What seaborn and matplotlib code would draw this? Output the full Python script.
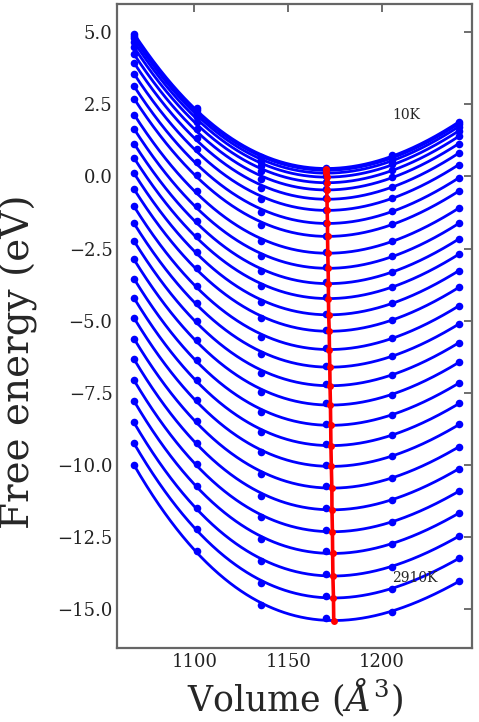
import numpy as np
import pandas as pd
import matplotlib
matplotlib.use("Agg")
import matplotlib.pyplot as plt
import seaborn as sns

# Cell volumes (Å^3) at which the free energy was computed
volumes = [1067.7, 1101.4, 1135.4, 1170.3, 1205.4, 1241.0]

# Temperatures (K)
temperatures = list(range(10, 3000, 100))

# Free energy (eV) at each volume, one list per volume, ordered by temperature
f_v1 = [4.95, 4.89, 4.80, 4.66, 4.48, 4.24, 3.94, 3.56, 3.13, 2.70, 2.15, 1.65,
        1.14, 0.64, 0.11, -0.44, -1.04, -1.63, -2.24, -2.88, -3.55, -4.22, -4.91,
        -5.63, -6.34, -7.07, -7.79, -8.54, -9.26, -10.01]
f_v2 = [2.37, 2.31, 2.21, 2.08, 1.89, 1.64, 1.33, 0.94, 0.50, 0.06, -0.51, -1.02,
        -1.55, -2.06, -2.61, -3.17, -3.79, -4.39, -5.02, -5.68, -6.37, -7.06, -7.77,
        -8.50, -9.24, -9.99, -10.73, -11.50, -12.24, -13.01]
f_v3 = [0.67, 0.61, 0.51, 0.37, 0.18, -0.07, -0.39, -0.77, -1.22, -1.67, -2.25, -2.77,
        -3.29, -3.81, -4.37, -4.93, -5.56, -6.17, -6.81, -7.47, -8.17, -8.87, -9.58,
        -10.33, -11.08, -11.83, -12.58, -13.36, -14.11, -14.89]
f_v4 = [0.30, 0.24, 0.14, 0.00, -0.19, -0.44, -0.76, -1.15, -1.60, -2.05, -2.63, -3.15,
        -3.68, -4.20, -4.76, -5.33, -5.96, -6.57, -7.21, -7.88, -8.58, -9.28, -10.00,
        -10.75, -11.50, -12.26, -13.01, -13.79, -14.55, -15.33]
f_v5 = [0.73, 0.67, 0.57, 0.43, 0.23, -0.02, -0.35, -0.74, -1.20, -1.65, -2.24, -2.77,
        -3.31, -3.83, -4.40, -4.98, -5.62, -6.24, -6.89, -7.57, -8.28, -8.99, -9.72,
        -10.48, -11.24, -12.01, -12.77, -13.56, -14.33, -15.12]
f_v6 = [1.89, 1.83, 1.73, 1.58, 1.39, 1.14, 0.81, 0.41, -0.05, -0.51, -1.10, -1.63,
        -2.17, -2.70, -3.27, -3.85, -4.49, -5.12, -5.77, -6.45, -7.17, -7.88, -8.61,
        -9.38, -10.14, -10.92, -11.68, -12.48, -13.25, -14.05]

sns.set_style("white")
plt.rcParams["font.family"] = ["DejaVu Serif"]
plt.rcParams["mathtext.fontset"] = "dejavuserif"

energies = np.array([f_v1, f_v2, f_v3, f_v4, f_v5, f_v6]).T  # (n_T, n_V)
vol = np.array(volumes)

# Long-form tables: raw points, cubic fits and fitted minima
pts_rows, fit_rows, min_v, min_f = [], [], [], []
v_fine = np.linspace(vol.min(), vol.max(), 600)
for t, row in zip(temperatures, energies):
    for v, f in zip(vol, row):
        pts_rows.append((t, v, f))
    coeffs = np.polyfit(vol, row, 3)
    f_fine = np.polyval(coeffs, v_fine)
    for v, f in zip(v_fine, f_fine):
        fit_rows.append((t, v, f))
    # stationary point of the cubic closest to the grid minimum
    k = np.argmin(f_fine)
    roots = np.roots(np.polyder(coeffs))
    roots = roots[np.isreal(roots)].real
    vm = roots[np.argmin(np.abs(roots - v_fine[k]))] if roots.size else v_fine[k]
    min_v.append(vm)
    min_f.append(np.polyval(coeffs, vm))

pts = pd.DataFrame(pts_rows, columns=["T", "V", "F"])
fits = pd.DataFrame(fit_rows, columns=["T", "V", "F"])
mins = pd.DataFrame({"T": temperatures, "V": min_v, "F": min_f})

fig = plt.figure(figsize=(4.79, 7.22), dpi=100)
ax = fig.add_axes([0.245, 0.1025, 0.741, 0.892])

sns.lineplot(data=fits, x="V", y="F", hue="T", palette=["#0000ff"] * len(temperatures),
             legend=False, linewidth=2.0, ax=ax, sort=False, estimator=None)
sns.scatterplot(data=pts, x="V", y="F", color="#0000ff", s=30, linewidth=0,
                ax=ax, zorder=3)
sns.lineplot(data=mins, x="V", y="F", color="red", linewidth=2.6, marker="o",
             markersize=5, markeredgewidth=0, sort=False, estimator=None,
             ax=ax, zorder=4)

ax.text(1205.5, 2.12, "10K", fontsize=10, ha="left", va="center")
ax.text(1205.5, -13.94, "2910K", fontsize=10, ha="left", va="center")

ax.set_xlim(1059, 1248)
ax.set_ylim(-16.37, 5.99)
ax.set_xticks([1100, 1150, 1200])
ax.set_yticks([5.0, 2.5, 0.0, -2.5, -5.0, -7.5, -10.0, -12.5, -15.0])
ax.set_yticklabels(["5.0", "2.5", "0.0", "\u22122.5", "\u22125.0", "\u22127.5",
                    "\u221210.0", "\u221212.5", "\u221215.0"])
ax.tick_params(direction="in", length=6, width=1.2, color="#555555",
               top=True, right=True, labelsize=13, labelcolor="#222222")
for sp in ax.spines.values():
    sp.set_color("#666666")
    sp.set_linewidth(1.6)

ax.set_xlabel("Volume ($\\AA^3$)", fontsize=25)
ax.set_ylabel("Free energy (eV)", fontsize=28)
ax.yaxis.set_label_coords(-0.223, 0.445)

fig.savefig("out.png", dpi=100)
